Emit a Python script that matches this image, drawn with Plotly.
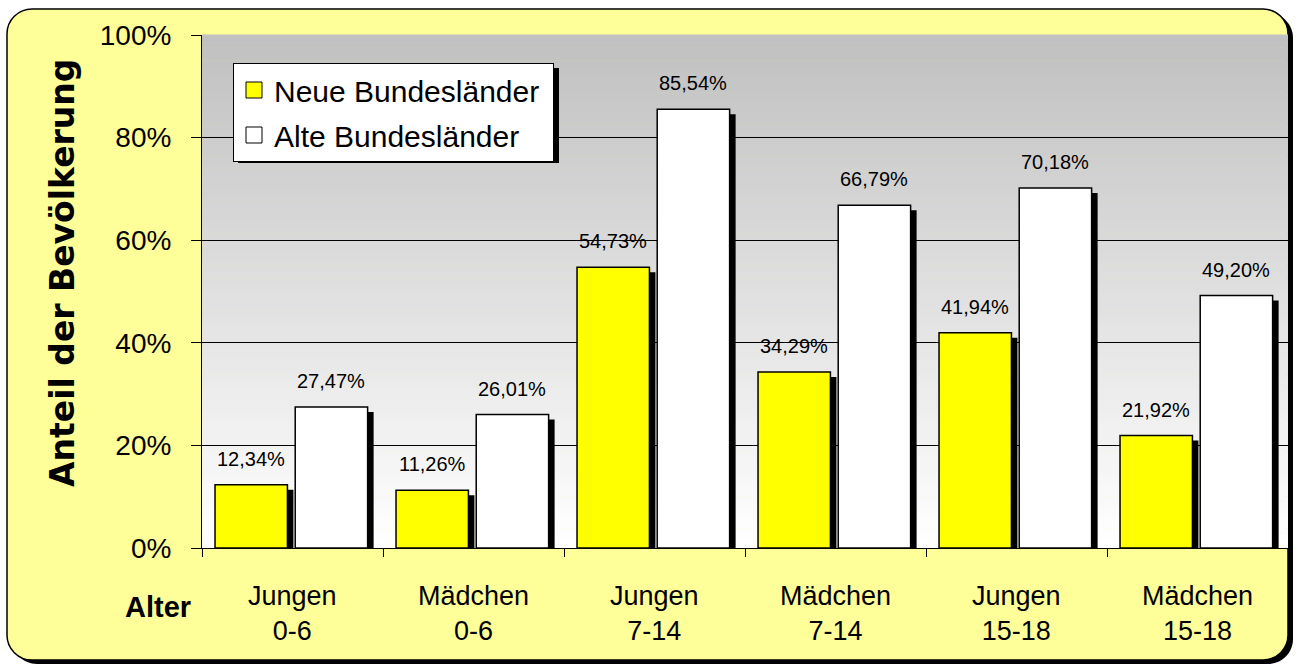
import plotly.graph_objects as go

categories = ["Jungen<br>0-6", "Mädchen<br>0-6", "Jungen<br>7-14",
              "Mädchen<br>7-14", "Jungen<br>15-18", "Mädchen<br>15-18"]
neue = [12.34, 11.26, 54.73, 34.29, 41.94, 21.92]
alte = [27.47, 26.01, 85.54, 66.79, 70.18, 49.20]
series_names = ["Neue Bundesländer", "Alte Bundesländer"]
y_ticks = [0, 20, 40, 60, 80, 100]
y_tick_labels = [f"{v}%" for v in y_ticks]

FONT = "Liberation Sans, Arial, sans-serif"
W, H = 1298, 666
L, R, T, B = 202, 1288, 35, 548
PW, PH = R - L, B - T


def px(x):
    return (x - L) / PW


def py(y):
    return (B - y) / PH


def rrect_path(x0, y0, x1, y1, r):
    k = 0.5523 * r

    def P(x, y):
        return f"{px(x):.5f},{py(y):.5f}"
    s = f"M {P(x0 + r, y0)} L {P(x1 - r, y0)} "
    s += f"C {P(x1 - r + k, y0)} {P(x1, y0 + r - k)} {P(x1, y0 + r)} "
    s += f"L {P(x1, y1 - r)} "
    s += f"C {P(x1, y1 - r + k)} {P(x1 - r + k, y1)} {P(x1 - r, y1)} "
    s += f"L {P(x0 + r, y1)} "
    s += f"C {P(x0 + r - k, y1)} {P(x0, y1 - r + k)} {P(x0, y1 - r)} "
    s += f"L {P(x0, y0 + r)} "
    s += f"C {P(x0, y0 + r - k)} {P(x0 + r - k, y0)} {P(x0 + r, y0)} Z"
    return s


n = len(categories)
idx = list(range(n))
bw = 0.40
off_neue, off_alte = -0.228, 0.215
cat_px = PW / n
sh_dx = 6 / cat_px          # shadow offset in category units
sh_dy = 5 / PH * 100        # shadow drop in value units

fig = go.Figure()

# shadows
for vals, off in ((neue, off_neue), (alte, off_alte)):
    fig.add_trace(go.Bar(
        x=[i + off + sh_dx for i in idx], y=[max(v - sh_dy, 0) for v in vals],
        width=bw, marker=dict(color="black", line=dict(width=0)),
        showlegend=False, hoverinfo="skip"))

# bars
fig.add_trace(go.Bar(x=[i + off_neue for i in idx], y=neue, width=bw,
                     marker=dict(color="#FFFF00", line=dict(color="black", width=1.5)),
                     showlegend=False, name=series_names[0]))
fig.add_trace(go.Bar(x=[i + off_alte for i in idx], y=alte, width=bw,
                     marker=dict(color="#FFFFFF", line=dict(color="black", width=1.5)),
                     showlegend=False, name=series_names[1]))

# legend entries
for nm, col, grp in ((series_names[0], "#FFFF00", "a"), (series_names[1], "#FFFFFF", "b")):
    fig.add_trace(go.Scatter(x=[None], y=[None], mode="markers", name=nm + "\u00a0",
                             legendgroup=grp,
                             marker=dict(symbol="square", size=16, color=col,
                                         line=dict(color="black", width=1))))

shapes = []
# outer chart shadow + background
shapes.append(dict(type="path", xref="paper", yref="paper", layer="below",
                   path=rrect_path(12, 13, 1293, 664, 25), fillcolor="black",
                   line=dict(width=0)))
shapes.append(dict(type="path", xref="paper", yref="paper", layer="below",
                   path=rrect_path(7, 9, 1288, 660, 25), fillcolor="#FFFF99",
                   line=dict(color="black", width=1.5)))
# plot-area gradient
ns = 80
for k in range(ns):
    t = k / (ns - 1)
    g = int(round(192 + (255 - 192) * t))
    shapes.append(dict(type="rect", xref="paper", yref="paper", layer="below",
                       x0=0, x1=1, y0=1 - (k + 1) / ns, y1=1 - k / ns + 0.001,
                       fillcolor=f"rgb({g},{g},{g})", line=dict(width=0)))
# legend shadow
shapes.append(dict(type="rect", xref="paper", yref="paper", layer="above",
                   x0=px(238), x1=px(559), y0=py(163), y1=py(68),
                   fillcolor="black", line=dict(width=0)))

annotations = []
for i, c in enumerate(categories):
    annotations.append(dict(x=i, y=py(613), xref="x", yref="paper", text=c,
                            showarrow=False, xanchor="center", yanchor="middle",
                            font=dict(family=FONT, size=27, color="black")))
for vals, off in ((neue, off_neue), (alte, off_alte)):
    for i, v in zip(idx, vals):
        annotations.append(dict(x=i + off, y=v, xref="x", yref="y",
                                text=f"{v:.2f}".replace(".", ",") + "%",
                                showarrow=False, xanchor="center", yanchor="bottom",
                                yshift=13,
                                font=dict(family=FONT, size=20, color="black")))
annotations.append(dict(x=px(62), y=py(273), xref="paper", yref="paper",
                        text="<b>Anteil der Bevölkerung</b>", textangle=-90,
                        showarrow=False, xanchor="center", yanchor="middle",
                        font=dict(family="DejaVu Sans, sans-serif", size=33, color="black")))
annotations.append(dict(x=px(158), y=py(607), xref="paper", yref="paper",
                        text="<b>Alter</b>", showarrow=False,
                        xanchor="center", yanchor="middle",
                        font=dict(family=FONT, size=29, color="black")))

fig.update_layout(
    width=W, height=H,
    margin=dict(l=L, r=W - R, t=T, b=H - B, pad=0),
    paper_bgcolor="white", plot_bgcolor="rgba(0,0,0,0)",
    barmode="overlay", separators=",.",
    shapes=shapes, annotations=annotations,
    font=dict(family=FONT, size=28, color="black"),
    legend=dict(x=px(233), y=py(63), xanchor="left", yanchor="top",
                bgcolor="white", bordercolor="black", borderwidth=1,
                font=dict(family=FONT, size=30, color="black"),
                tracegroupgap=3, itemsizing="trace"),
    xaxis=dict(range=[-0.5, n - 0.5], tickvals=[i - 0.5 for i in range(n + 1)],
               showticklabels=False, ticks="outside", ticklen=8, tickcolor="black",
               showgrid=False, zeroline=False, showline=True, linecolor="black",
               linewidth=1, fixedrange=True),
    yaxis=dict(range=[0, 100], tickmode="array", tickvals=y_ticks, ticktext=y_tick_labels,
               ticks="outside",
               ticklen=10, tickcolor="black", showgrid=True, gridcolor="black",
               gridwidth=1, zeroline=False, showline=True, linecolor="black",
               linewidth=1, ticklabelstandoff=14,
               tickfont=dict(family=FONT, size=28, color="black"), fixedrange=True),
)

fig.write_html("out.html", config={"displayModeBar": False},
               post_script="document.body.style.margin='0';document.body.style.overflow='hidden';")
